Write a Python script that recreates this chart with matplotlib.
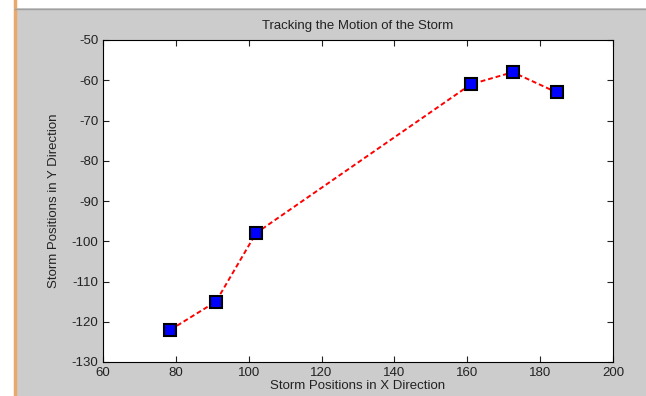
import matplotlib
matplotlib.use("Agg")
import matplotlib.pyplot as plt
from matplotlib.patches import Rectangle
from matplotlib.lines import Line2D

# storm track positions
x_pos = [78.5, 91, 102, 161, 172.5, 184.5]
y_pos = [-122, -115, -98, -61, -58, -63]

x_ticks = [60, 80, 100, 120, 140, 160, 180, 200]
y_ticks = [-130, -120, -110, -100, -90, -80, -70, -60, -50]

plt.rcParams['font.family'] = ['Liberation Sans', 'DejaVu Sans']
plt.rcParams['axes.unicode_minus'] = False

fig = plt.figure(figsize=(6.46, 3.96), dpi=100, facecolor='#cccccc')
W, H = 646.0, 396.0

# window frame bits: white strip left and top, orange edge line
fig.patches.append(Rectangle((0, 0), 14 / W, 1, transform=fig.transFigure,
                             facecolor='white', edgecolor='none', zorder=0))
fig.patches.append(Rectangle((0, 1 - 8 / H), 1, 8 / H, transform=fig.transFigure,
                             facecolor='white', edgecolor='none', zorder=0))
fig.lines.append(Line2D([15 / W, 15 / W], [0, 1], transform=fig.transFigure,
                        color='#e8a96a', lw=2.5))
fig.lines.append(Line2D([15 / W, 1], [1 - 8.5 / H, 1 - 8.5 / H], transform=fig.transFigure,
                        color='#a0a0a0', lw=1))

ax = fig.add_axes([103 / W, 1 - 362 / H, 510 / W, 322 / H])
ax.plot(x_pos, y_pos, color='red', linestyle=(0, (2.5, 1.5)), linewidth=1.4,
        marker='s', markersize=8, markerfacecolor='#0000ff',
        markeredgecolor='black', markeredgewidth=1.5)

ax.set_xlim(60, 200)
ax.set_ylim(-130, -50)
ax.set_xticks(x_ticks)
ax.set_yticks(y_ticks)
ax.tick_params(direction='in', top=True, right=True, length=4, width=0.8,
               labelsize=9.5, colors='#222222')
for s in ax.spines.values():
    s.set_linewidth(0.8)

ax.set_title('Tracking the Motion of the Storm', fontsize=9.5, color='#222222', pad=8)
ax.set_xlabel('Storm Positions in X Direction', fontsize=9.5, color='#222222', labelpad=1)
ax.set_ylabel('Storm Positions in Y Direction', fontsize=9.5, color='#222222', labelpad=8)

fig.savefig('out.png', dpi=100, facecolor=fig.get_facecolor())
